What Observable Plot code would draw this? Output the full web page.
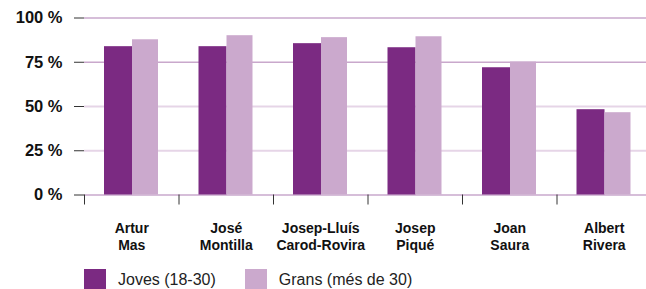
<!DOCTYPE html>
<html>
<head>
<meta charset="utf-8">
<script src="https://cdn.jsdelivr.net/npm/d3@7"></script>
<script src="https://cdn.jsdelivr.net/npm/@observablehq/plot@0.6"></script>
<style>
  html, body { margin: 0; padding: 0; background: #fff; }
  body { width: 646px; height: 289px; overflow: hidden; font-family: "Liberation Sans", Arial, Helvetica, sans-serif; }
  #legend { display: flex; align-items: center; padding-left: 84px; margin-top: 7px; font-size: 16px; color: #222; }
  #legend .sw { width: 22px; height: 22px; display: inline-block; margin-right: 12px; }
  #legend .item { display: flex; align-items: center; margin-right: 29px; }
</style>
</head>
<body>
<div id="chart"></div>
<div id="legend"></div>
<script>
const categories = ["Artur Mas", "José Montilla", "Josep-Lluís Carod-Rovira", "Josep Piqué", "Joan Saura", "Albert Rivera"];
const tickLabels = ["Artur\nMas", "José\nMontilla", "Josep-Lluís\nCarod-Rovira", "Josep\nPiqué", "Joan\nSaura", "Albert\nRivera"];
const joves = [83.8, 83.8, 85.5, 83.2, 71.9, 48.2];
const grans = [87.7, 90.0, 88.9, 89.4, 75.1, 46.5];
const seriesNames = ["Joves (18-30)", "Grans (més de 30)"];
const seriesColors = ["#7b2a82", "#cba9cd"];
const yTicks = [0, 25, 50, 75, 100];

const chart = Plot.plot({
  width: 646,
  height: 262,
  marginLeft: 84,
  marginRight: 0,
  marginTop: 17.5,
  marginBottom: 67.5,
  style: { fontFamily: "'Liberation Sans', Arial, Helvetica, sans-serif", background: "#fff", overflow: "hidden" },
  x: { domain: categories, range: [84, 651], padding: 0, round: false },
  y: { domain: [0, 100], range: [194.5, 17.5] },
  marks: [
    Plot.ruleY(yTicks.filter(d => d >= 75), { stroke: "#c9a8cc", strokeWidth: 1.3 }),
    Plot.ruleY(yTicks.filter(d => d > 0 && d < 75), { stroke: "#e6d5e7", strokeWidth: 2 }),
    Plot.ruleY([0], { stroke: "#c9a8cc", strokeWidth: 1.3 }),
    Plot.barY(categories, { x: d => d, y: (d, i) => joves[i], fill: seriesColors[0], insetLeft: 20, insetRight: 46.5 }),
    Plot.barY(categories, { x: d => d, y: (d, i) => grans[i], fill: seriesColors[1], insetLeft: 48, insetRight: 20.5 }),
    Plot.axisY(yTicks, {
      tickSize: 10, tickPadding: 12, stroke: "#333",
      tickFormat: d => d + " %",
      fontSize: 16.5, fontWeight: "bold", fill: "#111", label: null
    }),
    Plot.axisX({ tickSize: 10, text: null, dx: -47.25, stroke: "#333", label: null }),
    Plot.axisX({
      tickSize: 0, tickPadding: 27, label: null,
      tickFormat: d => tickLabels[categories.indexOf(d)],
      fontSize: 14, fontWeight: "bold", fill: "#111", lineHeight: 1.15
    })
  ]
});
document.getElementById("chart").appendChild(chart);

const legend = document.getElementById("legend");
seriesNames.forEach((name, i) => {
  const item = document.createElement("span");
  item.className = "item";
  const sw = document.createElement("span");
  sw.className = "sw";
  sw.style.background = seriesColors[i];
  item.appendChild(sw);
  item.appendChild(document.createTextNode(name));
  legend.appendChild(item);
});
</script>
</body>
</html>
